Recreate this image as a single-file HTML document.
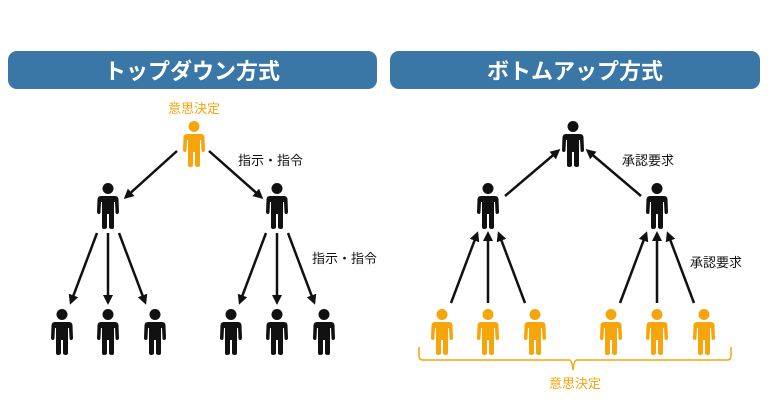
<!DOCTYPE html>
<html><head><meta charset="utf-8"><style>
body{margin:0;background:#fff}
svg{display:block}
text{font-family:"Liberation Sans","Noto Sans CJK JP",sans-serif}
</style></head><body>
<svg width="768" height="410" viewBox="0 0 768 410" xmlns="http://www.w3.org/2000/svg">
<defs>
<g id="p">
<circle cx="0" cy="5.5" r="5.5"/>
<path d="M-7,13 H7 Q10,13 10.5,16 L11,29 Q11,31 9,31 Q7.5,31 7.5,29 L7,19 L6,19 L6,44 Q6,46 4,46 Q1,46 1,44 L1,31 L-1,31 L-1,44 Q-1,46 -4,46 Q-6,46 -6,44 L-6,19 L-7,19 L-7.5,29 Q-7.5,31 -9,31 Q-11,31 -11,29 L-10.5,16 Q-10,13 -7,13 Z"/>
</g>
<marker id="a" markerWidth="10" markerHeight="10" refX="7" refY="5" orient="auto" markerUnits="userSpaceOnUse"><path d="M0,0 L10,5 L0,10 Z" fill="#111"/></marker>
</defs>
<rect x="8" y="51" width="369" height="38" rx="9" fill="#3a76a6"/>
<rect x="390" y="51" width="370" height="38" rx="9" fill="#3a76a6"/>
<text x="192" y="79" fill="#fff" font-size="22" font-weight="bold" text-anchor="middle">トップダウン方式</text>
<text x="575" y="79" fill="#fff" font-size="22" font-weight="bold" text-anchor="middle">ボトムアップ方式</text>
<text x="194" y="113" fill="#f7a50c" font-size="13" text-anchor="middle">意思決定</text>
<g stroke="#111" stroke-width="2.5" fill="none" marker-end="url(#a)">
<line x1="177" y1="151" x2="126" y2="197"/>
<line x1="209" y1="151" x2="261" y2="197"/>
<line x1="97" y1="233" x2="71" y2="302"/>
<line x1="108" y1="233" x2="108" y2="302"/>
<line x1="119" y1="233" x2="145" y2="302"/>
<line x1="266" y1="233" x2="240" y2="302"/>
<line x1="277" y1="233" x2="277" y2="302"/>
<line x1="288" y1="233" x2="314" y2="302"/>
<line x1="451" y1="303" x2="477" y2="234"/>
<line x1="488" y1="303" x2="488" y2="234"/>
<line x1="525" y1="303" x2="499" y2="234"/>
<line x1="620" y1="303" x2="646" y2="234"/>
<line x1="657" y1="303" x2="657" y2="234"/>
<line x1="694" y1="303" x2="668" y2="234"/>
<line x1="505" y1="196" x2="558" y2="151"/>
<line x1="641" y1="196" x2="588" y2="151"/>
</g>
<g fill="#f7a50c"><use href="#p" x="194" y="121"/></g>
<g fill="#111">
<use href="#p" x="108" y="183"/><use href="#p" x="277" y="183"/>
<use href="#p" x="62" y="309"/><use href="#p" x="108" y="309"/><use href="#p" x="155" y="309"/>
<use href="#p" x="231" y="309"/><use href="#p" x="277" y="309"/><use href="#p" x="324" y="309"/>
<use href="#p" x="573" y="121"/><use href="#p" x="488" y="183"/><use href="#p" x="657" y="183"/>
</g>
<g fill="#f7a50c">
<use href="#p" x="442" y="309"/><use href="#p" x="488" y="309"/><use href="#p" x="535" y="309"/>
<use href="#p" x="611" y="309"/><use href="#p" x="657" y="309"/><use href="#p" x="704" y="309"/>
</g>
<text x="238" y="165" fill="#111" font-size="13">指示・指令</text>
<text x="312" y="263" fill="#111" font-size="13">指示・指令</text>
<text x="622" y="165" fill="#111" font-size="13">承認要求</text>
<text x="690" y="267" fill="#111" font-size="13">承認要求</text>
<path d="M419,347 V356 Q419,360 423,360 H569 Q572,360 573,370 Q574,360 577,360 H727 Q731,360 731,356 V347" fill="none" stroke="#f7a50c" stroke-width="1.5"/>
<text x="575" y="388" fill="#f7a50c" font-size="13" text-anchor="middle">意思決定</text>
</svg>
</body></html>
